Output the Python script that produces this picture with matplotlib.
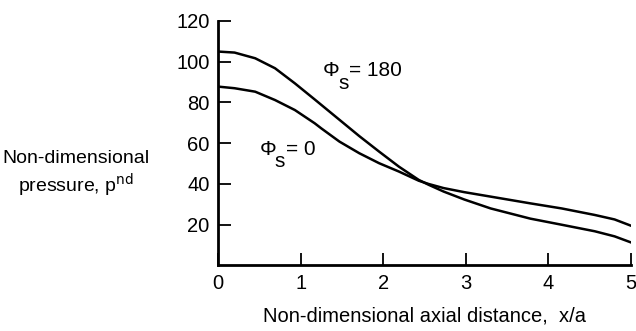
import matplotlib
matplotlib.use("Agg")
import matplotlib.pyplot as plt

plt.rcParams['font.family'] = ['Liberation Sans', 'DejaVu Sans']

x_180 = [0.0, 0.2, 0.45, 0.69, 0.93, 1.17, 1.29, 1.47, 1.71, 1.95, 2.19, 2.43, 2.55,
         2.73, 2.98, 3.3, 3.78, 4.16, 4.56, 4.8, 5.0]
p_180 = [105.0, 104.5, 101.7, 96.8, 89.4, 81.5, 77.5, 71.5, 63.5, 55.9, 48.5, 42.0, 39.6,
         36.3, 32.4, 28.0, 23.0, 20.0, 16.8, 14.3, 11.3]

x_0 = [0.0, 0.2, 0.45, 0.69, 0.93, 1.17, 1.25, 1.47, 1.71, 1.95, 2.19, 2.43, 2.55,
       2.73, 2.98, 3.3, 3.78, 4.16, 4.56, 4.8, 5.0]
p_0 = [87.8, 87.0, 85.3, 81.2, 76.3, 69.8, 67.3, 60.8, 55.1, 50.2, 46.1, 41.6, 40.0,
       38.0, 36.0, 33.8, 30.5, 28.0, 24.8, 22.6, 19.5]

xticks = [0, 1, 2, 3, 4, 5]
yticks = [20, 40, 60, 80, 100, 120]

fig = plt.figure(figsize=(6.36, 3.31), dpi=100)
ax = fig.add_axes([0.3428, 0.1979, 0.6495, 0.7387])

ax.plot(x_180, p_180, color="black", lw=1.8)
ax.plot(x_0, p_0, color="black", lw=1.8)

ax.set_xlim(0, 5)
ax.set_ylim(0, 120)
ax.set_xticks(xticks)
ax.set_yticks(yticks)
ax.tick_params(direction="in", length=9, width=1.3, labelsize=14.5, pad=6)

for s in ["top", "right"]:
    ax.spines[s].set_visible(False)
for s in ["left", "bottom"]:
    ax.spines[s].set_linewidth(2)

# curve labels: Phi with a large, low subscript s
def phi_label(x, y, rest):
    ax.text(x, y, "\u03a6", fontsize=15, ha="left", va="center")
    ax.annotate("s", (x, y), xytext=(11, -9), textcoords="offset points",
                fontsize=15, ha="left", va="center")
    ax.annotate(rest, (x, y), xytext=(19, 0), textcoords="offset points",
                fontsize=15, ha="left", va="center")

phi_label(1.27, 95.5, "= 180")
phi_label(0.5, 57.0, "= 0")

ax.set_xlabel("Non-dimensional axial distance,  x/a", fontsize=14.5, labelpad=10)
fig.text(0.12, 0.522, "Non-dimensional", fontsize=14, ha="center", va="center")
fig.text(0.12, 0.44, r"pressure, p$^\mathrm{nd}$", fontsize=14, ha="center", va="center")

fig.savefig("out.png", dpi=100)
